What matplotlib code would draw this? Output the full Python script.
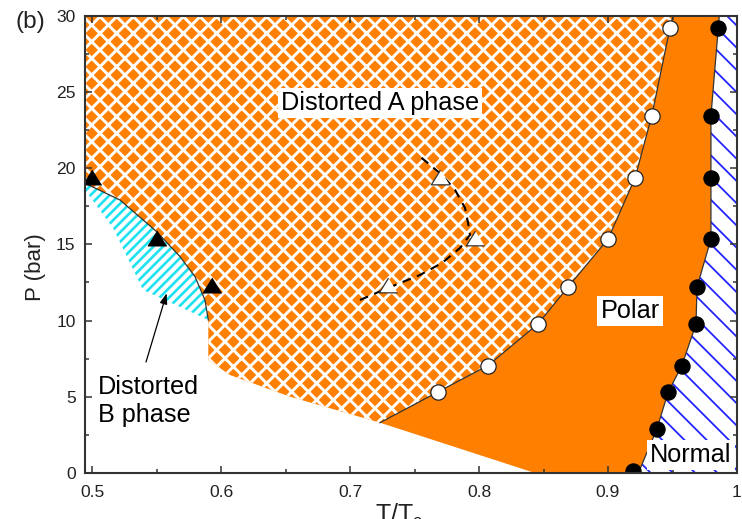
import matplotlib
matplotlib.use("Agg")
import matplotlib.pyplot as plt
from matplotlib.patches import Polygon
from matplotlib.ticker import MultipleLocator, FuncFormatter

plt.rcParams['font.family'] = ['Liberation Sans', 'DejaVu Sans']

# ---------------- measured transition points ----------------
# polar -> normal (filled circles)
pn_T = [0.9196, 0.9378, 0.9467, 0.9571, 0.9682, 0.9690, 0.9798, 0.9798, 0.9798, 0.9855]
pn_P = [0.1, 2.87, 5.33, 7.02, 9.76, 12.20, 15.35, 19.34, 23.43, 29.22]
# distorted A -> polar (open circles)
ap_T = [0.7684, 0.8069, 0.8457, 0.8690, 0.9000, 0.9209, 0.9339, 0.9481]
ap_P = [5.33, 7.05, 9.78, 12.20, 15.35, 19.34, 23.43, 29.22]
# distorted B -> distorted A (filled triangles)
ba_T = [0.4997, 0.5501, 0.5927]
ba_P = [19.44, 15.40, 12.34]
# anomaly inside the distorted A phase (open triangles)
an_T = [0.7297, 0.7969, 0.7697]
an_P = [12.34, 15.40, 19.44]

# ---------------- phase boundary guides ----------------
ap_line_T = [0.7232] + ap_T + [0.9504]
ap_line_P = [3.30] + ap_P + [30.0]
pn_line_T = [0.9235] + pn_T[1:] + [0.9863]
pn_line_P = [0.0] + pn_P[1:] + [30.0]
ba_line_T = [0.4945, 0.5216, 0.5501, 0.5682, 0.5798, 0.5875, 0.5901]
ba_line_P = [19.01, 17.91, 15.83, 14.19, 12.88, 11.35, 10.04]
an_line_T = [0.7077, 0.7294, 0.7542, 0.7713, 0.7852, 0.7930, 0.7915, 0.7891, 0.7814, 0.7713, 0.7527]
an_line_P = [11.35, 12.14, 12.99, 13.78, 14.76, 15.62, 16.40, 17.39, 18.57, 19.55, 20.87]

# lower limits of the explored regions
b_low_T = [0.4945, 0.4945, 0.5162, 0.5294, 0.5395]
b_low_P = [19.01, 18.57, 16.08, 13.78, 12.01]
a_low_T = [0.5901, 0.6069, 0.6534, 0.7232]
a_low_P = [7.41, 6.43, 5.01, 3.30]
polar_low_T = [0.7232, 0.8434]
polar_low_P = [3.30, 0.0]

T_MIN, T_MAX = 0.4945, 1.0
P_MIN, P_MAX = 0.0, 30.0

ORANGE = '#FF8000'
CYAN = '#1EE2F0'
BLUE = '#2424FF'
DARK = '#333333'

DPI = 200
fig = plt.figure(figsize=(742 / DPI, 519 / DPI), dpi=DPI)
ax = fig.add_axes([85 / 742, 1 - 473 / 519, (737 - 85) / 742, (473 - 15.7) / 519])
ax.set_xlim(T_MIN, T_MAX)
ax.set_ylim(P_MIN, P_MAX)


def region(verts, face, hatch, hcolor, hlw, z=1):
    with plt.rc_context({'hatch.linewidth': hlw}):
        p = Polygon(verts, closed=True, facecolor=face, edgecolor=hcolor,
                    linewidth=0, hatch=hatch, zorder=z)
    if hasattr(p, 'set_hatch_linewidth'):
        p.set_hatch_linewidth(hlw)
    ax.add_patch(p)
    return p


# distorted A phase
a_verts = [(T_MIN, P_MAX)]
a_verts += list(zip(ap_line_T[::-1], ap_line_P[::-1]))
a_verts += list(zip(a_low_T[::-1][1:], a_low_P[::-1][1:]))
a_verts += list(zip(ba_line_T[::-1], ba_line_P[::-1]))
region(a_verts, ORANGE, 'xxxx', 'white', 1.05)

# polar phase
p_verts = list(zip(ap_line_T, ap_line_P))
p_verts += list(zip(pn_line_T[::-1], pn_line_P[::-1]))
p_verts += [(polar_low_T[1], polar_low_P[1])]
ax.add_patch(Polygon(p_verts, closed=True, facecolor=ORANGE, edgecolor='none', zorder=1))

# normal phase
n_verts = list(zip(pn_line_T, pn_line_P)) + [(T_MAX, P_MAX), (T_MAX, P_MIN)]
region(n_verts, 'white', '\\\\\\', BLUE, 0.65)

# distorted B phase
b_verts = list(zip(ba_line_T, ba_line_P)) + list(zip(b_low_T[::-1], b_low_P[::-1]))
region(b_verts, 'white', '///////', CYAN, 0.95)

# boundary lines
for xs, ys in [(ap_line_T, ap_line_P), (pn_line_T, pn_line_P), (ba_line_T, ba_line_P)]:
    ax.plot(xs, ys, color=DARK, lw=0.45, zorder=3)
ax.plot(an_line_T, an_line_P, color='black', lw=0.75, dashes=(4.2, 3.2), zorder=3)

# data markers
tri = [(0, 0.8), (-1, -0.8), (1, -0.8)]
ax.plot(pn_T, pn_P, 'o', ms=5.5, mfc='black', mec='black', mew=0.4, zorder=4)
ax.plot(ap_T, ap_P, 'o', ms=5.5, mfc='white', mec='#222222', mew=0.45, zorder=4)
ax.plot(ba_T, ba_P, linestyle='none', marker=tri, ms=6.8, mfc='black', mec='black', mew=0.3, zorder=4)
ax.plot(an_T, an_P, linestyle='none', marker=tri, ms=6.6, mfc='white', mec='#333333', mew=0.45, zorder=4)

# phase labels
box = dict(boxstyle='square,pad=0.12', fc='white', ec='none')
ax.text(0.7232, 24.28, 'Distorted A phase', fontsize=9.1, ha='center', va='center', bbox=box, zorder=5)
ax.text(0.9170, 10.63, 'Polar', fontsize=9.1, ha='center', va='center', bbox=box, zorder=5)
ax.text(0.9644, 1.18, 'Normal', fontsize=9.1, ha='center', va='center', bbox=box, zorder=5)
ax.text(0.5046, 4.72, 'Distorted\nB phase', fontsize=9.1, ha='left', va='center',
        linespacing=1.25, zorder=5)
ax.annotate('', xy=(0.5578, 11.79), xytext=(0.5418, 7.28),
            arrowprops=dict(arrowstyle='-|>,head_length=0.45,head_width=0.16',
                            color='black', lw=0.45, mutation_scale=7,
                            shrinkA=0, shrinkB=0), zorder=5)

# axes styling
ax.xaxis.set_major_locator(MultipleLocator(0.1))
ax.xaxis.set_minor_locator(MultipleLocator(0.05))
ax.yaxis.set_major_locator(MultipleLocator(5))
ax.yaxis.set_minor_locator(MultipleLocator(2.5))
ax.xaxis.set_major_formatter(FuncFormatter(lambda v, pos: '{:g}'.format(round(v, 3))))
ax.yaxis.set_major_formatter(FuncFormatter(lambda v, pos: '{:g}'.format(round(v, 3))))
ax.tick_params(which='both', direction='in', top=True, right=True, color=DARK,
               width=0.55, labelsize=6.3, labelcolor='#222222')
ax.tick_params(which='major', length=2.5)
ax.tick_params(which='minor', length=1.4)
ax.tick_params(axis='x', pad=4.2)
ax.tick_params(axis='y', pad=3.4)
for s in ax.spines.values():
    s.set_linewidth(0.75)
    s.set_color(DARK)
    s.set_zorder(6)

ax.set_xlabel('T/T$\\mathregular{_c}$', fontsize=9, color='#222222')
ax.xaxis.set_label_coords((399 - 85) / 652, -(502 - 473) / 457.3)
ax.set_ylabel('P (bar)', fontsize=8, color='#222222')
ax.yaxis.set_label_coords(-(85 - 46) / 652, 0.45)

fig.text(30 / 742, 1 - 22 / 519, '(b)', fontsize=8.8, ha='center', va='center', color='#222222')

fig.savefig('out.png', dpi=DPI)
